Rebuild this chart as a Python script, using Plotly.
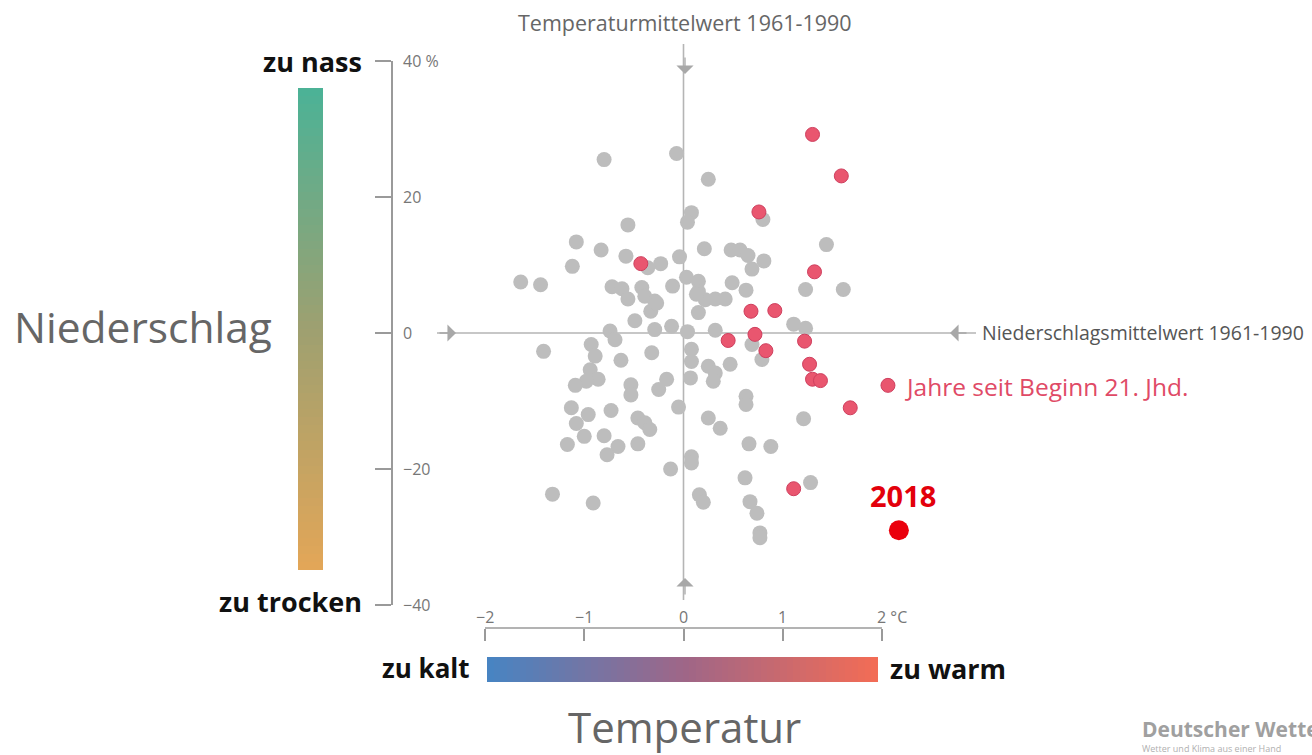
import plotly.graph_objects as go

W, H = 1312, 755

# ---- data: temperature anomaly (°C) and precipitation anomaly (%) vs. 1961-1990 ----
gray_temp = [-0.80, -0.07, 0.25, 0.80, 0.08, 0.04, -0.56, -1.08, -0.83, -1.12, -0.58, -0.23,
             -0.36, -0.04, 0.21, 0.48, 0.57, 0.65, 0.81, 0.69, 1.44, -1.64, -1.44, -0.72,
             -0.62, -0.56, -0.42, -0.39, -0.29, -0.33, -0.11, 0.03, 0.15, 0.15, 0.22, 0.15,
             0.32, 0.42, 0.49, 0.63, 1.23, 1.61, -0.49, -0.74, -0.29, -0.12, 0.04, 0.32,
             1.11, 1.23, 0.13, -0.27,
             -1.41, -0.93, -0.89, -0.94, -0.86, -0.98, -1.09, -0.69, -0.63, -0.32, 0.08,
             0.08, 0.07, -0.17, -0.25, -0.53, -0.53, 0.25, 0.32, 0.30, 0.47, 0.69, 0.79,
             0.63, 0.63, 1.21, -1.13, -0.96, -1.08, -0.73, -1.00, -1.17, -0.80, -0.66,
             -0.77, -0.46, -0.46, -0.39, -0.34, -0.05, 0.25, 0.37, 0.08, 0.08, -0.13,
             0.66, 0.88, 0.62, 1.28, -1.32, -0.91, 0.16, 0.20, 0.67, 0.74, 0.77, 0.77]
gray_prec = [25.5, 26.4, 22.6, 16.7, 17.7, 16.3, 15.9, 13.4, 12.2, 9.8, 11.3, 10.2,
             9.6, 11.2, 12.4, 12.2, 12.2, 11.4, 10.6, 9.4, 13.0, 7.5, 7.1, 6.8,
             6.5, 5.0, 6.7, 5.4, 4.7, 3.2, 6.9, 8.2, 7.6, 6.1, 4.9, 3.0,
             5.0, 5.0, 7.4, 6.3, 6.4, 6.4, 1.8, 0.3, 0.5, 1.0, 0.2, 0.4,
             1.3, 0.7, 5.7, 4.4,
             -2.7, -1.7, -3.4, -5.4, -6.8, -7.1, -7.7, -1.0, -4.0, -2.9, -2.4,
             -4.2, -6.6, -6.8, -8.3, -7.6, -9.1, -4.9, -5.9, -7.1, -4.6, -1.7, -3.9,
             -9.3, -10.5, -12.6, -11.0, -12.0, -13.3, -11.4, -15.2, -16.4, -15.1, -16.7,
             -17.9, -16.3, -12.5, -13.2, -14.2, -10.9, -12.5, -14.0, -18.2, -19.1, -20.0,
             -16.3, -16.7, -21.3, -22.0, -23.7, -25.0, -23.8, -24.9, -24.8, -26.5, -29.4, -30.1]

red_temp = [1.30, 1.59, 0.76, -0.43, 1.32, 0.68, 0.92, 0.45, 0.72, 0.83, 1.22, 1.27,
            1.30, 1.38, 2.06, 1.68, 1.11]
red_prec = [29.2, 23.1, 17.8, 10.2, 9.0, 3.2, 3.3, -1.1, -0.2, -2.6, -1.2, -4.6,
            -6.8, -7.0, -7.7, -11.0, -22.9]

y2018_temp = [2.17]
y2018_prec = [-29.0]

x_ticks = [-2, -1, 0, 1, 2]
x_ticktext = ["\u22122", "\u22121", "0", "1", "2 °C"]
y_ticks = [-40, -20, 0, 20, 40]
y_ticktext = ["\u221240", "\u221220", "0", "20", "40 %"]

grad_steps = list(range(60))  # gradient bars (legend decoration)

# ---- layout geometry in pixels ----
def px(x):
    return x / W

def py(y):
    return 1 - y / H

FONT = "Open Sans"
AX = "#9a9a9a"
X_LEFT, X_RIGHT = 485, 882          # pixels of -2 and +2
X_MAX = 2.35                         # extra room on the right for 2018
unit = (X_RIGHT - X_LEFT) / 4
dom_right = X_LEFT + unit * (X_MAX + 2)

fig = go.Figure()

fig.add_trace(go.Scatter(
    x=gray_temp, y=gray_prec, mode="markers",
    marker=dict(size=15, color="#bdbdbd", line=dict(width=0)),
    cliponaxis=False, showlegend=False, hoverinfo="skip"))
fig.add_trace(go.Scatter(
    x=red_temp, y=red_prec, mode="markers",
    marker=dict(size=14, color="#e9566f", line=dict(width=1, color="#cf3f5e")),
    cliponaxis=False, showlegend=False, hoverinfo="skip"))
fig.add_trace(go.Scatter(
    x=y2018_temp, y=y2018_prec, mode="markers",
    marker=dict(size=20, color="#ea000c", line=dict(width=0)),
    cliponaxis=False, showlegend=False, hoverinfo="skip"))

# gradient bars
fig.add_trace(go.Heatmap(
    z=[[v] for v in grad_steps], xaxis="x2", yaxis="y2", showscale=False, hoverinfo="skip",
    colorscale=[[0, "rgb(226,166,88)"], [0.5, "rgb(158,160,112)"], [1, "rgb(76,178,150)"]]))
fig.add_trace(go.Heatmap(
    z=[grad_steps], xaxis="x3", yaxis="y3", showscale=False, hoverinfo="skip",
    colorscale=[[0, "rgb(72,132,194)"], [0.5, "rgb(158,102,136)"], [1, "rgb(242,108,86)"]]))

fig.update_layout(
    width=W, height=H,
    margin=dict(l=0, r=0, t=0, b=0),
    paper_bgcolor="white", plot_bgcolor="rgba(0,0,0,0)",
    font=dict(family=FONT, color="#777"),
    xaxis=dict(domain=[px(X_LEFT), px(dom_right)], range=[-2, X_MAX], anchor="free",
               position=py(628), showgrid=False, zeroline=False, showline=False,
               ticks="outside", ticklen=12, tickwidth=1.6, tickcolor=AX,
               tickvals=x_ticks, showticklabels=False),
    yaxis=dict(domain=[py(605), py(61)], range=[-40, 40], anchor="free", position=px(392),
               showgrid=False, zeroline=False, showline=True, linecolor=AX, linewidth=1.6,
               ticks="outside", ticklen=16, tickwidth=1.6, tickcolor=AX,
               tickvals=y_ticks, showticklabels=False),
    xaxis2=dict(domain=[px(298), px(323)], visible=False, anchor="y2"),
    yaxis2=dict(domain=[py(570), py(88)], visible=False, anchor="x2"),
    xaxis3=dict(domain=[px(487), px(878)], visible=False, anchor="y3"),
    yaxis3=dict(domain=[py(682), py(657)], visible=False, anchor="x3"),
)

# x axis line from -2 to 2 only
fig.add_shape(type="line", xref="x", yref="paper", x0=x_ticks[0], x1=x_ticks[-1],
              y0=py(628), y1=py(628), line=dict(color=AX, width=1.6))

# tick labels
for v, t in zip(x_ticks, x_ticktext):
    last = (v == x_ticks[-1])
    fig.add_annotation(x=v, y=py(617), xref="x", yref="paper", text=t, showarrow=False,
                       xanchor="left" if last else "center", xshift=-7 if last else 0,
                       yanchor="middle", font=dict(family=FONT, size=16, color="#777"))
for v, t in zip(y_ticks, y_ticktext):
    fig.add_annotation(x=px(401), y=v, xref="paper", yref="y", text=t, showarrow=False,
                       xanchor="left", yanchor="middle",
                       font=dict(family=FONT, size=16, color="#777"))

# reference lines (1961-1990 means)
fig.add_shape(type="line", xref="x", yref="paper", x0=0, x1=0, y0=py(600), y1=py(44),
              line=dict(color="#b5b5b5", width=1.6), layer="below")
fig.add_shape(type="line", xref="paper", yref="y", x0=px(437), x1=px(976), y0=0, y1=0,
              line=dict(color="#b5b5b5", width=1.6), layer="below")

arrow = dict(text="", showarrow=True, arrowhead=1, arrowsize=2.2, arrowwidth=1.3,
             arrowcolor="#a8a8a8", xref="paper", yref="paper", axref="pixel", ayref="pixel")
fig.add_annotation(x=px(685), y=py(74), ax=0, ay=-18, **arrow)
fig.add_annotation(x=px(685), y=py(578), ax=0, ay=18, **arrow)
fig.add_annotation(x=px(456), y=py(333), ax=-18, ay=0, **arrow)
fig.add_annotation(x=px(950), y=py(333), ax=18, ay=0, **arrow)

def txt(x, y, s, size, color, xanchor="center", bold=False):
    fig.add_annotation(x=px(x), y=py(y), xref="paper", yref="paper", text=s, showarrow=False,
                       xanchor=xanchor, yanchor="middle",
                       font=dict(family=FONT, size=size, color=color,
                                 weight="bold" if bold else "normal"))

txt(685, 22, "Temperaturmittelwert 1961-1990", 21.5, "#666")
txt(980, 332, "Niederschlagsmittelwert 1961-1990", 19.5, "#555", xanchor="left")
txt(903, 386, "Jahre seit Beginn 21. Jhd.", 24.5, "#e04a66", xanchor="left")
txt(903, 496, "2018", 29, "#e3000b", bold=True)
txt(12, 326, "Niederschlag", 42.5, "#666", xanchor="left")
txt(684, 726, "Temperatur", 42, "#666")
txt(364, 62, "zu nass", 27, "#111", xanchor="right", bold=True)
txt(364, 601, "zu trocken", 27, "#111", xanchor="right", bold=True)
txt(472, 668, "zu kalt", 26, "#111", xanchor="right", bold=True)
txt(888, 668, "zu warm", 27, "#111", xanchor="left", bold=True)
txt(1140, 729, "Deutscher Wetterdienst", 21, "#a0a0a0", xanchor="left", bold=True)
txt(1140, 748, "Wetter und Klima aus einer Hand", 9, "#b0b0b0", xanchor="left")

fig.write_html("out.html", config={"displayModeBar": False},
               post_script="document.body.style.margin='0';document.body.style.overflow='hidden';")
